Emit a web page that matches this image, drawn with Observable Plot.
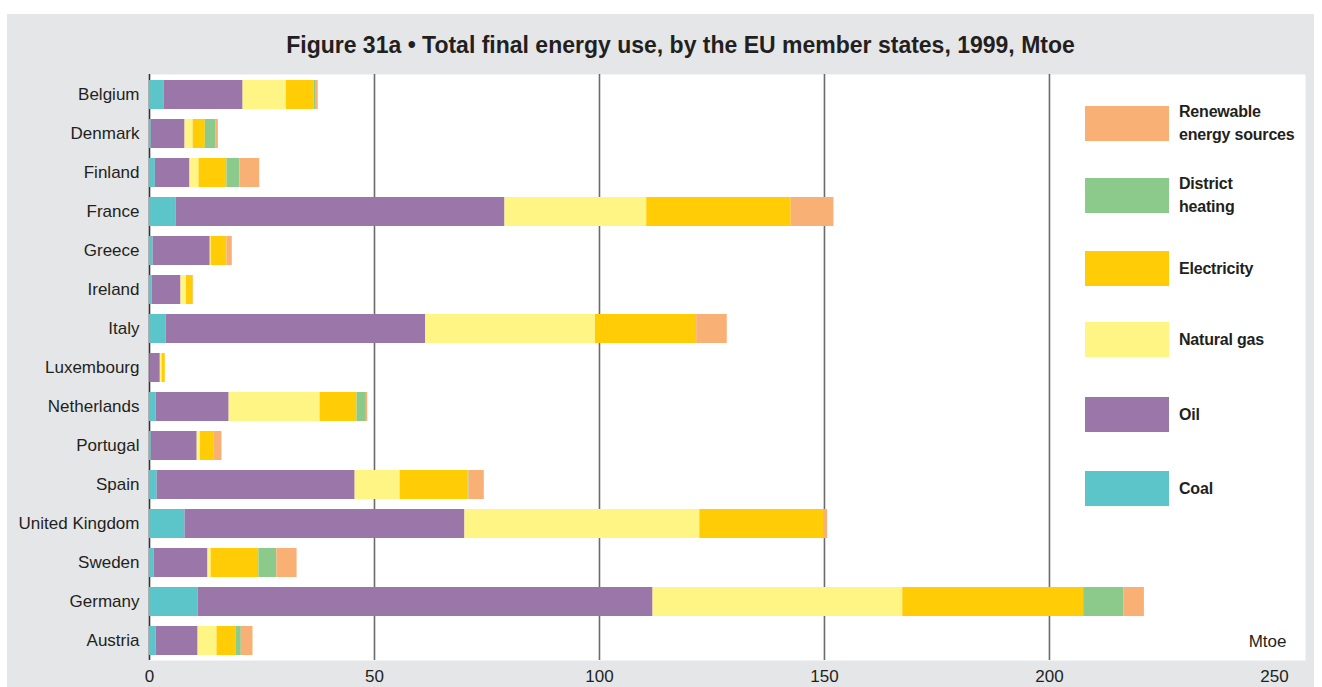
<!DOCTYPE html>
<html>
<head>
<meta charset="utf-8">
<script src="https://cdn.jsdelivr.net/npm/d3@7"></script>
<script src="https://cdn.jsdelivr.net/npm/@observablehq/plot@0.6"></script>
<style>
  html, body { margin: 0; padding: 0; background: #ffffff; }
  #wrap { position: relative; width: 1322px; height: 687px; overflow: hidden; font-family: "Liberation Sans", Arial, Helvetica, sans-serif; }
  #bg { position: absolute; left: 7px; top: 14px; width: 1307px; height: 673px; background: #e5e6e8; }
  #chart { position: absolute; left: 0; top: 0; }
  #title { position: absolute; left: 680.5px; transform: translateX(-50%); top: 31px; font-size: 23px; line-height: 28px; font-weight: bold; color: #231f20; white-space: nowrap; }
  .lg-sw { position: absolute; left: 1085px; width: 84px; height: 35px; }
  .lg-tx { position: absolute; left: 1179px; font-size: 16px; font-weight: bold; color: #231f20; line-height: 23px; white-space: nowrap; letter-spacing: -0.2px; }
</style>
</head>
<body>
<div id="wrap">
  <div id="bg"></div>
  <div id="chart"></div>
  <div id="title">Figure 31a • Total final energy use, by the EU member states, 1999, Mtoe</div>
  <div id="legend"></div>
</div>
<script>
const countries = ["Belgium","Denmark","Finland","France","Greece","Ireland","Italy","Luxembourg","Netherlands","Portugal","Spain","United Kingdom","Sweden","Germany","Austria"];
const sources = ["Coal","Oil","Natural gas","Electricity","District heating","Renewable energy sources"];
const legendLabels = ["Coal","Oil","Natural gas","Electricity","District<br>heating","Renewable<br>energy sources"];
const coal            = [3.3, 0.4, 1.3,  5.9,  0.8, 0.6,  3.7, 0.1,  1.5,  0.4,  1.7,  7.9,  1.0,  10.8, 1.5];
const oil             = [17.5,7.5, 7.7,  73.1, 12.7,6.4,  57.7,2.3,  16.2, 10.2, 44.0, 62.2, 12.0, 101.1,9.3];
const naturalGas      = [9.6, 1.8, 2.0,  31.5, 0.2, 1.2,  37.7,0.4,  20.2, 0.7,  10.0, 52.2, 0.7,  55.5, 4.2];
const electricity     = [6.2, 2.7, 6.2,  32.1, 3.5, 1.5,  22.5,0.7,  8.2,  3.0,  15.1, 27.5, 10.6, 40.2, 4.3];
const districtHeating = [0.3, 2.3, 2.9,  0,    0,   0,    0,   0,    2.1,  0,    0.2,  0,    4.0,  8.9,  1.1];
const renewables      = [0.6, 0.6, 4.4,  9.5,  1.2, 0.1,  6.8, 0,    0.3,  1.8,  3.4,  0.9,  4.5,  4.6,  2.6];
const xTicks = [0, 50, 100, 150, 200, 250];
const gridValues = [50, 100, 150, 200];
const colors = ["#5bc5c9","#9b76a8","#fff585","#ffcc05","#8bca8b","#f9b075"];

const series = [coal, oil, naturalGas, electricity, districtHeating, renewables];
const data = [];
countries.forEach((c, i) => {
  sources.forEach((s, j) => {
    data.push({country: c, source: s, value: series[j][i]});
  });
});

const chart = Plot.plot({
  width: 1322,
  height: 687,
  marginLeft: 149,
  marginRight: 17,
  marginTop: 74,
  marginBottom: 27,
  style: {background: "transparent", fontFamily: "'Liberation Sans', Arial, Helvetica, sans-serif", fontSize: "17px", color: "#231f20"},
  x: {domain: [0, 256.9], ticks: xTicks, tickSize: 0, tickPadding: 9, label: null, tickFormat: d => String(d)},
  y: {domain: countries, paddingInner: 0.26, paddingOuter: 0.13, tickSize: 0, tickPadding: 10, label: null},
  color: {domain: sources, range: colors},
  marks: [
    Plot.frame({fill: "white", stroke: null}),
    Plot.ruleX(gridValues, {stroke: "#6b6b6b", strokeWidth: 1.6}),
    Plot.ruleX([0], {stroke: "#333", strokeWidth: 1.6}),
    Plot.barX(data, Plot.stackX({y: "country", x: "value", fill: "source", order: sources})),
    Plot.text(["Mtoe"], {frameAnchor: "bottom-right", dx: -19, dy: -14, fontSize: 17, fill: "#231f20"})
  ]
});
document.getElementById("chart").appendChild(chart);

const legendTops = [471, 397, 322, 251, 178, 106];
const legend = document.getElementById("legend");
sources.forEach((s, j) => {
  const sw = document.createElement("div");
  sw.className = "lg-sw";
  sw.style.top = legendTops[j] + "px";
  sw.style.background = colors[j];
  legend.appendChild(sw);
  const tx = document.createElement("div");
  tx.className = "lg-tx";
  const twoLine = legendLabels[j].includes("<br>");
  tx.style.top = (legendTops[j] + (twoLine ? -6 : 6)) + "px";
  tx.innerHTML = legendLabels[j];
  legend.appendChild(tx);
});
</script>
</body>
</html>
